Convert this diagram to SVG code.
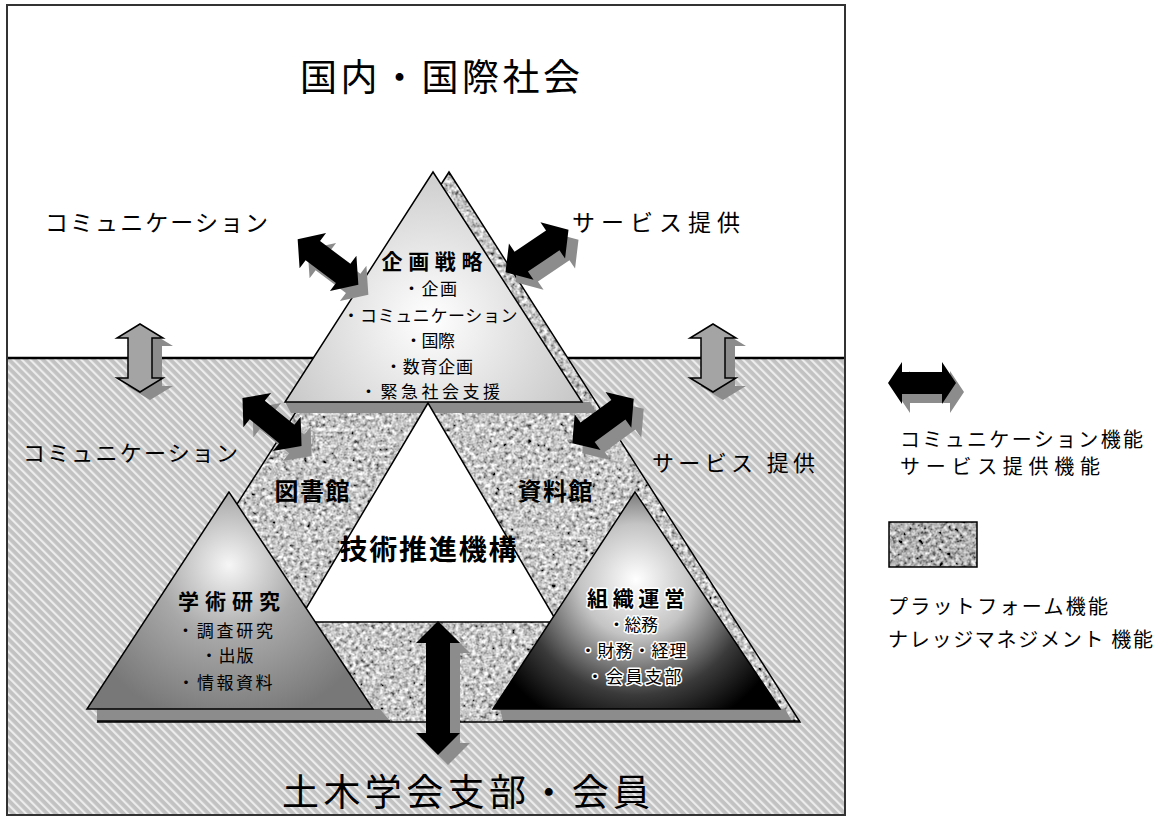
<svg xmlns="http://www.w3.org/2000/svg" width="1160" height="818" viewBox="0 0 1160 818">
<style>
text{font-family:"Noto Sans CJK JP","Noto Sans CJK SC",sans-serif;fill:#000;}
.big{font-size:37px;}
.mid{font-size:23px;}
.sm{font-size:17px;text-anchor:middle;}
.ttl{font-size:21px;font-weight:bold;text-anchor:middle;}
.halo{paint-order:stroke;stroke:#fff;stroke-width:3px;stroke-linejoin:round;}
.leg{font-size:20px;}
.edge{fill:none;stroke:#000;stroke-width:1.5;}
.blk{fill:#000;}
.shd{fill:#8c8c8c;}
.gry{fill:#a4a4a4;stroke:#000;stroke-width:1.5;}
</style>
<defs>
<pattern id="hatch" width="6" height="6" patternUnits="userSpaceOnUse" patternTransform="rotate(-45)">
<rect width="6" height="6" fill="#c2c2c2"/>
<rect width="2.2" height="6" fill="#ececec"/>
</pattern>
<filter id="granite" x="0" y="0" width="1" height="1">
<feTurbulence type="fractalNoise" baseFrequency="0.25" numOctaves="3" seed="4" result="n"/>
<feColorMatrix in="n" type="matrix" values="0.33 0.33 0.33 0 0 0.33 0.33 0.33 0 0 0.33 0.33 0.33 0 0 0 0 0 0 1" result="g"/>
<feComponentTransfer in="g" result="c">
<feFuncR type="linear" slope="2.6" intercept="-0.72"/>
<feFuncG type="linear" slope="2.6" intercept="-0.72"/>
<feFuncB type="linear" slope="2.6" intercept="-0.72"/>
</feComponentTransfer>
<feComposite in="c" in2="SourceAlpha" operator="in"/>
</filter>
<filter id="graniteDark" x="0" y="0" width="1" height="1">
<feTurbulence type="fractalNoise" baseFrequency="0.25" numOctaves="3" seed="7" result="n"/>
<feColorMatrix in="n" type="matrix" values="0.33 0.33 0.33 0 0 0.33 0.33 0.33 0 0 0.33 0.33 0.33 0 0 0 0 0 0 1" result="g"/>
<feComponentTransfer in="g" result="c">
<feFuncR type="linear" slope="2.6" intercept="-0.85"/>
<feFuncG type="linear" slope="2.6" intercept="-0.85"/>
<feFuncB type="linear" slope="2.6" intercept="-0.85"/>
</feComponentTransfer>
<feComposite in="c" in2="SourceAlpha" operator="in"/>
</filter>
<radialGradient id="gTop" gradientUnits="userSpaceOnUse" cx="430" cy="320" r="170">
<stop offset="0" stop-color="#ffffff"/><stop offset="1" stop-color="#c6c6c6"/>
</radialGradient>
<radialGradient id="gLeft" gradientUnits="userSpaceOnUse" cx="229" cy="565" r="160">
<stop offset="0" stop-color="#f6f6f6"/><stop offset="0.45" stop-color="#a8a8a8"/><stop offset="1" stop-color="#787878"/>
</radialGradient>
<radialGradient id="gRight" gradientUnits="userSpaceOnUse" cx="636" cy="580" r="160">
<stop offset="0" stop-color="#ffffff"/><stop offset="0.35" stop-color="#c4c4c4"/><stop offset="0.72" stop-color="#3a3a3a"/><stop offset="1" stop-color="#000000"/>
</radialGradient>
<path id="arrD" d="M -38 0 L -19 -22 L -19 -12 L 19 -12 L 19 -22 L 38 0 L 19 22 L 19 12 L -19 12 L -19 22 Z"/>
<path id="arrG" d="M -34 0 L -20 -23 L -20 -12 L 20 -12 L 20 -23 L 34 0 L 20 23 L 20 12 L -20 12 L -20 23 Z"/>
<path id="arrV" d="M -67 0 L -45 -22 L -45 -12 L 45 -12 L 45 -22 L 67 0 L 45 22 L 45 12 L -45 12 L -45 22 Z"/>
<path id="arrL" d="M -34 0 L -20 -21 L -20 -11 L 20 -11 L 20 -21 L 34 0 L 20 21 L 20 11 L -20 11 L -20 21 Z"/>
</defs>

<g id="background">
<rect x="0" y="0" width="1160" height="818" fill="#fff"/>
<rect x="7" y="358" width="838" height="457" fill="url(#hatch)"/>
<line x1="7" y1="358" x2="845" y2="358" stroke="#000" stroke-width="2.5"/>
<rect x="7" y="5" width="838" height="810" fill="none" stroke="#333" stroke-width="2"/>
</g>

<g id="platform">
<polygon points="449,172 98,722 800,722" fill="#aaa" filter="url(#granite)"/>
<polygon class="edge" points="449,172 98,722 800,722"/>
<polygon points="285,402 590,402 596,413 291,413" fill="#8c8c8c"/>
</g>

<g id="top-node">
<polygon points="433,172 285,402 582,402" fill="url(#gTop)" stroke="#000" stroke-width="1.5"/>
<text class="ttl" x="432" y="269" textLength="101">企画戦略</text>
<text class="sm" x="430" y="295" textLength="54">・企画</text>
<text class="sm" x="430" y="322" textLength="175">・コミュニケーション</text>
<text class="sm" x="430" y="347" textLength="50">・国際</text>
<text class="sm" x="429" y="373" textLength="88">・数育企画</text>
<text class="sm" x="430" y="398" textLength="140">・緊急社会支援</text>
</g>

<g id="center-node">
<polygon points="428,403 298,622 557,622" fill="#fff" stroke="#000" stroke-width="1.5"/>
<text class="ttl" x="428" y="560" style="font-size:28px" textLength="177">技術推進機構</text>
</g>

<g id="library">
<text class="ttl" x="312" y="500" style="font-size:24px" textLength="75">図書館</text>
</g>
<g id="archive">
<text class="ttl" x="555" y="500" style="font-size:24px" textLength="75">資料館</text>
</g>

<g id="left-node">
<polygon points="97,709 380,709 390,721 97,721" fill="#8c8c8c"/>
<line x1="97" y1="721" x2="390" y2="721" stroke="#000" stroke-width="1.5"/>
<polygon points="229,492 87,709 373,709" fill="url(#gLeft)" stroke="#000" stroke-width="1.5"/>
<text class="ttl" x="229" y="609" textLength="102">学術研究</text>
<text class="sm" x="225" y="637" textLength="96">・調査研究</text>
<text class="sm" x="227" y="662" textLength="53">・出版</text>
<text class="sm" x="225" y="689" textLength="95">・情報資料</text>
</g>

<g id="right-node">
<polygon points="500,709 785,709 792,721 503,721" fill="#8c8c8c"/>
<line x1="503" y1="721" x2="800" y2="721" stroke="#000" stroke-width="1.5"/>
<polygon points="635,492 493,709 780,709" fill="url(#gRight)" stroke="#000" stroke-width="1.5"/>
<text class="ttl halo" x="636" y="606" textLength="98">組織運営</text>
<text class="sm halo" x="633" y="631" textLength="50">・総務</text>
<text class="sm halo" x="633" y="657" textLength="107">・財務・経理</text>
<text class="sm halo" x="634" y="683" textLength="95">・会員支部</text>
</g>

<g id="labels">
<text class="big" x="300" y="91" textLength="280">国内・国際社会</text>
<text class="mid" x="45" y="231" textLength="223">コミュニケーション</text>
<text class="mid" x="572" y="231" textLength="168">サービス提供</text>
<text class="mid" x="23" y="461" textLength="215" style="font-size:22px">コミュニケーション</text>
<text class="mid" x="652" y="471" textLength="163" style="font-size:22px">サービス 提供</text>
<text class="big" x="282" y="806" textLength="368">土木学会支部・会員</text>
</g>

<g id="connectors">
<use href="#arrD" class="shd" transform="translate(338,272) rotate(37)"/>
<use href="#arrD" class="blk" transform="translate(328,262) rotate(37)"/>
<use href="#arrD" class="shd" transform="translate(547,261) rotate(-34)"/>
<use href="#arrD" class="blk" transform="translate(537,251) rotate(-34)"/>
<use href="#arrD" class="shd" transform="translate(282,432) rotate(39)"/>
<use href="#arrD" class="blk" transform="translate(272,422) rotate(39)"/>
<use href="#arrD" class="shd" transform="translate(613,431) rotate(-36)"/>
<use href="#arrD" class="blk" transform="translate(603,421) rotate(-36)"/>
<use href="#arrG" class="shd" transform="translate(150,366) rotate(90)"/>
<use href="#arrG" class="gry" transform="translate(140,358) rotate(90)"/>
<use href="#arrG" class="shd" transform="translate(723,366) rotate(90)"/>
<use href="#arrG" class="gry" transform="translate(713,358) rotate(90)"/>
<use href="#arrV" class="shd" transform="translate(448,698) rotate(90)"/>
<use href="#arrV" class="blk" transform="translate(438,688) rotate(90)"/>
</g>

<g id="legend">
<use href="#arrL" class="shd" transform="translate(930,392)"/>
<use href="#arrL" class="blk" transform="translate(922,383)"/>
<text class="leg" x="900" y="447" textLength="243">コミュニケーション機能</text>
<text class="leg" x="900" y="474" textLength="200">サービス提供機能</text>
<rect x="889" y="522" width="88" height="45" fill="#888" filter="url(#graniteDark)"/>
<rect x="889" y="522" width="88" height="45" fill="none" stroke="#000" stroke-width="1.5"/>
<text class="leg" x="888" y="614" textLength="220">プラットフォーム機能</text>
<text class="leg" x="888" y="647" textLength="265">ナレッジマネジメント 機能</text>
</g>
</svg>
